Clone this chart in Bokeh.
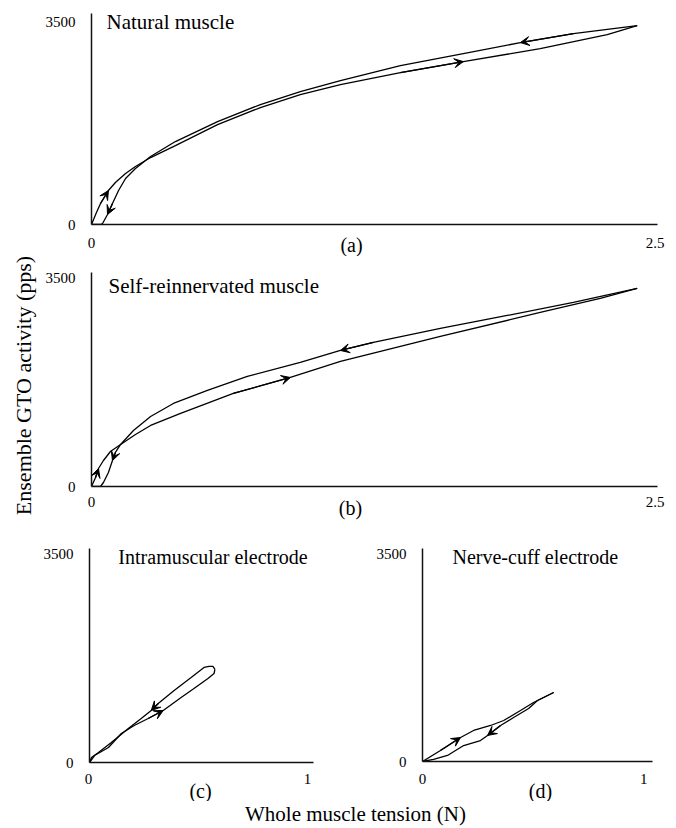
from math import pi
from bokeh.plotting import figure
from bokeh.models import Range1d, FixedTicker, Label, Arrow, VeeHead
from bokeh.core.properties import value
from bokeh.layouts import row, column
from bokeh.embed import file_html
from bokeh.resources import INLINE

FONT = "Liberation Serif"

# ---------------- data (tension N, ensemble GTO activity pps) ----------------
# (a) Natural muscle
a_load_x = [0.000, 0.022, 0.040, 0.075, 0.106, 0.151, 0.195, 0.262, 0.372, 0.559,
            0.749, 0.926, 1.104, 1.370, 1.649, 1.990, 2.287, 2.420]
a_load_y = [0, 207, 362, 586, 724, 879, 1000, 1155, 1362, 1724,
            2017, 2241, 2414, 2620, 2810, 3034, 3276, 3431]
a_unload_x = [2.420, 2.314, 2.137, 1.902, 1.649, 1.370, 1.104, 0.926, 0.749, 0.559,
              0.372, 0.262, 0.195, 0.151, 0.120, 0.093, 0.071, 0.049, 0.040, 0.000]
a_unload_y = [3431, 3379, 3293, 3138, 2948, 2741, 2483, 2293, 2069, 1776,
              1431, 1172, 965, 793, 586, 362, 172, 17, 0, 0]

# (b) Self-reinnervated muscle
b_load_x = [0.000, 0.018, 0.031, 0.053, 0.084, 0.129, 0.195, 0.262, 0.395, 0.629,
            0.882, 1.104, 1.547, 1.990, 2.256, 2.420]
b_load_y = [0, 151, 302, 436, 587, 705, 873, 1024, 1225, 1561,
            1829, 2098, 2517, 2920, 3155, 3322]
b_unload_x = [2.420, 2.137, 1.844, 1.547, 1.250, 1.104, 0.926, 0.691, 0.514, 0.363,
              0.262, 0.186, 0.129, 0.106, 0.093, 0.075, 0.053, 0.040, 0.000]
b_unload_y = [3322, 3088, 2869, 2651, 2416, 2282, 2081, 1846, 1611, 1393,
              1175, 940, 705, 571, 436, 235, 67, 0, 0]

# (c) Intramuscular electrode
c_load_x = [0.000, 0.023, 0.087, 0.146, 0.205, 0.269, 0.338, 0.420, 0.479, 0.543, 0.571, 0.575]
c_load_y = [0, 117, 252, 487, 621, 738, 873, 1091, 1242, 1410, 1493, 1561]
c_unload_x = [0.575, 0.566, 0.548, 0.525, 0.466, 0.388, 0.315, 0.283, 0.237, 0.178,
              0.100, 0.041, 0.009, 0.000]
c_unload_y = [1561, 1611, 1611, 1594, 1426, 1208, 990, 873, 738, 571, 336, 168, 84, 0]

# (d) Nerve-cuff electrode
d_load_x = [0.000, 0.081, 0.172, 0.231, 0.308, 0.367, 0.443, 0.502, 0.593]
d_load_y = [0, 185, 404, 522, 606, 690, 858, 993, 1161]
d_unload_x = [0.593, 0.520, 0.480, 0.412, 0.353, 0.294, 0.262, 0.186, 0.113, 0.050, 0.000]
d_unload_y = [1161, 1027, 892, 741, 606, 438, 353, 269, 101, 34, 0]

titles = ["Natural muscle", "Self-reinnervated muscle",
          "Intramuscular electrode", "Nerve-cuff electrode"]
letters = ["(a)", "(b)", "(c)", "(d)"]
y_ticks = [0, 3500]
x_ticks_big = [0, 2.5]
x_ticks_small = [0, 1]
x_title = "Whole muscle tension (N)"
y_title = "Ensemble GTO activity (pps)"


def base_fig(**kw):
    f = figure(title=None, toolbar_location=None, output_backend="svg", **kw)
    f.frame_align = False
    f.outline_line_color = None
    f.background_fill_color = "white"
    f.border_fill_color = "white"
    return f


def make_panel(cx, cy, w, h, bl, br, bt, bb, xmax, ymax,
               lx, ly, ux, uy, arr_l, arr_u, title, title_px, title_size):
    p = base_fig(width=w, height=h, x_range=Range1d(0, xmax), y_range=Range1d(0, ymax),
                 min_border_left=bl, min_border_right=br,
                 min_border_top=bt, min_border_bottom=bb)
    p.xgrid.visible = False
    p.ygrid.visible = False
    for ax in (p.xaxis[0], p.yaxis[0]):
        ax.axis_line_color = "#111111"
        ax.axis_line_width = 1.5
        ax.major_tick_line_color = None
        ax.minor_tick_line_color = None
        ax.major_label_text_font = FONT
        ax.major_label_text_font_size = "15px"
        ax.major_label_text_color = "black"
        ax.major_label_standoff = 10
    # x tick labels are written in the strip below the panel (same scale)
    p.xaxis[0].ticker = FixedTicker(ticks=[])
    p.yaxis[0].ticker = FixedTicker(ticks=y_ticks)

    p.line(lx, ly, line_color="black", line_width=1.3)
    p.line(ux, uy, line_color="black", line_width=1.3)
    for xs, ys, idxs in ((lx, ly, arr_l), (ux, uy, arr_u)):
        for i in idxs:
            p.add_layout(Arrow(end=VeeHead(size=9, fill_color="black", line_color="black",
                                           line_width=1),
                               x_start=xs[i - 1], y_start=ys[i - 1], x_end=xs[i], y_end=ys[i],
                               line_color="black", line_width=1.3))

    fx0, fx1 = cx + bl, cx + w - br
    fy0, fy1 = cy + bt, cy + h - bb
    tx = (title_px[0] - fx0) / (fx1 - fx0) * xmax
    ty = (fy1 - title_px[1]) / (fy1 - fy0) * ymax
    p.add_layout(Label(x=tx, y=ty, text=title, text_font=FONT, text_font_size=title_size,
                       text_color="black", text_align="left", text_baseline="middle"))
    return p


def make_strip(cx, w, h, bl, br, xmax, ticks, tick_y, letter, letter_px, letter_y):
    fw = w - bl - br
    x0 = -bl / fw * xmax
    x1 = (w - bl) / fw * xmax
    s = base_fig(width=w, height=h, x_range=Range1d(x0, x1), y_range=Range1d(h, 0),
                 x_axis_type=None, y_axis_type=None, min_border=0)
    s.text(x=ticks, y=[tick_y] * len(ticks), text=["%g" % t for t in ticks],
           text_font=value(FONT), text_font_size=value("15px"), text_color="black",
           text_align="center", text_baseline="middle")
    lxd = (letter_px - (cx + bl)) / fw * xmax
    s.text(x=[lxd], y=[letter_y], text=[letter],
           text_font=value(FONT), text_font_size=value("20px"), text_color="black",
           text_align="center", text_baseline="middle")
    return s


# panel (a): canvas y 0..234, frame 13..224
fig_a = make_panel(40, 0, 636, 234, 51, 19, 13, 10, 2.51, 3640,
                   a_load_x, a_load_y, a_unload_x, a_unload_y, [3, 14], [3, 16],
                   titles[0], (106, 21.5), "21px")
lab_a = make_strip(40, 636, 22, 51, 19, 2.51, x_ticks_big, 8, letters[0], 351, 10)

# panel (b): canvas y 256..494, frame 272..486
fig_b = make_panel(40, 256, 636, 238, 51, 19, 16, 8, 2.51, 3590,
                   b_load_x, b_load_y, b_unload_x, b_unload_y, [2, 10], [5, 14],
                   titles[1], (108, 285), "21px")
lab_b = make_strip(40, 636, 31, 51, 19, 2.51, x_ticks_big, 7, letters[1], 350, 13)

# panels (c), (d): canvas y 525..771
fig_c = make_panel(40, 525, 320, 246, 48, 47, 23, 9, 1.027, 3590,
                   c_load_x, c_load_y, c_unload_x, c_unload_y, [6], [7],
                   titles[2], (117, 556.5), "20px")
fig_d = make_panel(360, 525, 316, 246, 62, 24, 23, 10, 1.04, 3585,
                   d_load_x, d_load_y, d_unload_x, d_unload_y, [2], [5],
                   titles[3], (452, 556.5), "20px")
lab_c = make_strip(40, 320, 30, 48, 47, 1.027, x_ticks_small, 7, letters[2], 200, 19)
lab_d = make_strip(360, 316, 30, 62, 24, 1.04, x_ticks_small, 7, letters[3], 540, 19)

strip = base_fig(width=40, height=828, x_range=Range1d(0, 40), y_range=Range1d(828, 0),
                 x_axis_type=None, y_axis_type=None, min_border=0)
strip.add_layout(Label(x=23, y=385, text=y_title, angle=pi / 2, text_font=FONT,
                       text_font_size="22px", text_color="black",
                       text_align="center", text_baseline="middle"))

xfig = base_fig(width=636, height=27, x_range=Range1d(0, 636), y_range=Range1d(27, 0),
                x_axis_type=None, y_axis_type=None, min_border=0)
xfig.add_layout(Label(x=315, y=12.5, text=x_title, text_font=FONT, text_font_size="21px",
                      text_color="black", text_align="center", text_baseline="middle"))

layout = row(strip, column(fig_a, lab_a, fig_b, lab_b,
                           row(fig_c, fig_d), row(lab_c, lab_d), xfig))

open("out.html", "w").write(file_html(layout, INLINE))
